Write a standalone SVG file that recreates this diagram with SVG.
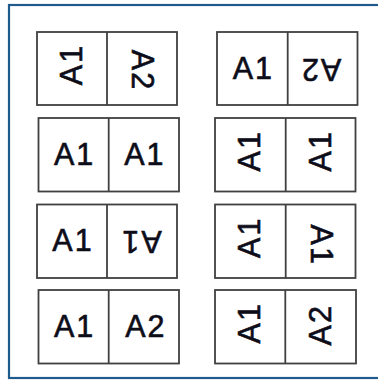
<svg xmlns="http://www.w3.org/2000/svg" width="378" height="380" viewBox="0 0 378 380">
<style>
.frame{fill:none;stroke:#1f5a8c;stroke-width:2.2}
.box{fill:#fff;stroke:#404040;stroke-width:1.8}
.t{font-family:"Liberation Sans",Arial,sans-serif;font-size:30.5px;letter-spacing:2px;fill:#0d0d1a;stroke:#0d0d1a;stroke-width:0.6px;text-anchor:middle}
</style>
<rect x="0" y="0" width="378" height="380" fill="#fff"/>
<rect class="frame" x="9" y="5" width="376" height="373"/>

<g id="r1l">
<rect class="box" x="37" y="32" width="140" height="73"/>
<line class="box" x1="107" y1="32" x2="107" y2="105"/>
<text class="t" transform="translate(72,68.5) rotate(-90)" x="4" y="10">A1</text>
<text class="t" transform="translate(142,68.5) rotate(90)" x="2" y="10">A2</text>
</g>
<g id="r2l">
<rect class="box" x="38.5" y="118" width="140.5" height="73.5"/>
<line class="box" x1="108.7" y1="118" x2="108.7" y2="191.5"/>
<text class="t" transform="translate(73.6,154.75)" x="1" y="10">A1</text>
<text class="t" transform="translate(143.85,154.75)" x="1" y="10">A1</text>
</g>
<g id="r3l">
<rect class="box" x="37" y="204.5" width="140" height="73.5"/>
<line class="box" x1="107" y1="204.5" x2="107" y2="278"/>
<text class="t" transform="translate(72,241.25)" x="1" y="10">A1</text>
<text class="t" transform="translate(142,241.25) rotate(180)" x="1" y="10">A1</text>
</g>
<g id="r4l">
<rect class="box" x="38.5" y="290" width="140.5" height="73.5"/>
<line class="box" x1="108.7" y1="290" x2="108.7" y2="363.5"/>
<text class="t" transform="translate(73.6,326.75)" x="1" y="10">A1</text>
<text class="t" transform="translate(143.85,326.75)" x="2" y="10">A2</text>
</g>

<g id="r1r">
<rect class="box" x="217" y="32" width="140.5" height="73"/>
<line class="box" x1="287.7" y1="32" x2="287.7" y2="105"/>
<text class="t" transform="translate(252.35,68.5)" x="1" y="10">A1</text>
<text class="t" transform="translate(322.6,68.5) rotate(180)" x="2" y="10">A2</text>
</g>
<g id="r2r">
<rect class="box" x="215" y="118" width="140.5" height="73.5"/>
<line class="box" x1="285.7" y1="118" x2="285.7" y2="191.5"/>
<text class="t" transform="translate(250.35,154.75) rotate(-90)" x="4" y="10">A1</text>
<text class="t" transform="translate(320.6,154.75) rotate(-90)" x="4" y="10">A1</text>
</g>
<g id="r3r">
<rect class="box" x="215" y="204.5" width="140.5" height="73.5"/>
<line class="box" x1="285.7" y1="204.5" x2="285.7" y2="278"/>
<text class="t" transform="translate(250.35,241.25) rotate(-90)" x="4" y="10">A1</text>
<text class="t" transform="translate(320.6,241.25) rotate(90)" x="4" y="10">A1</text>
</g>
<g id="r4r">
<rect class="box" x="215" y="290" width="141" height="73.5"/>
<line class="box" x1="285.3" y1="290" x2="285.3" y2="363.5"/>
<text class="t" transform="translate(250.15,326.75) rotate(-90)" x="4" y="10">A1</text>
<text class="t" transform="translate(320.65,326.75) rotate(-90)" x="2" y="10">A2</text>
</g>
</svg>
